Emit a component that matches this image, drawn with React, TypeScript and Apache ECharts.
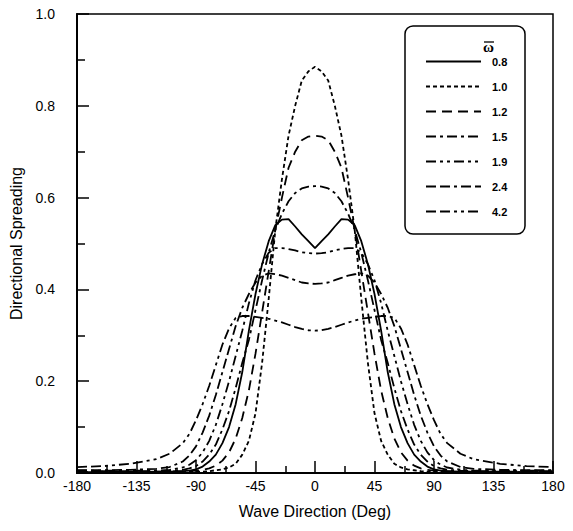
import React, { useEffect, useRef } from "react";
import * as echarts from "echarts";

// Wave direction (deg)
const DEG = [-180, -160, -140, -120, -110, -100, -95, -90, -85, -80, -75, -70, -65, -60, -55, -50, -45, -40, -35, -30, -25, -20, -15, -10, -5,
  0, 5, 10, 15, 20, 25, 30, 35, 40, 45, 50, 55, 60, 65, 70, 75, 80, 85, 90, 95, 100, 110, 120, 140, 160, 180];

const S08 = [0.002, 0.002, 0.002, 0.003, 0.003, 0.004, 0.005, 0.008, 0.014, 0.025, 0.04, 0.065, 0.1, 0.15, 0.22, 0.31, 0.39, 0.455, 0.505, 0.54, 0.552, 0.553, 0.537, 0.52, 0.505,
  0.49, 0.505, 0.52, 0.537, 0.553, 0.552, 0.54, 0.505, 0.455, 0.39, 0.31, 0.22, 0.15, 0.1, 0.065, 0.04, 0.025, 0.014, 0.008, 0.005, 0.004, 0.003, 0.003, 0.002, 0.002, 0.002];
const S10 = [0.002, 0.002, 0.002, 0.002, 0.002, 0.002, 0.003, 0.003, 0.003, 0.004, 0.006, 0.008, 0.012, 0.02, 0.04, 0.07, 0.13, 0.24, 0.38, 0.53, 0.64, 0.735, 0.8, 0.855, 0.875,
  0.885, 0.875, 0.855, 0.8, 0.735, 0.64, 0.53, 0.38, 0.24, 0.13, 0.07, 0.04, 0.02, 0.012, 0.008, 0.006, 0.004, 0.003, 0.003, 0.003, 0.002, 0.002, 0.002, 0.002, 0.002, 0.002];
const S12 = [0.003, 0.003, 0.003, 0.003, 0.003, 0.004, 0.004, 0.005, 0.007, 0.01, 0.016, 0.027, 0.045, 0.075, 0.12, 0.18, 0.26, 0.35, 0.44, 0.53, 0.6, 0.665, 0.7, 0.725, 0.733,
  0.735, 0.733, 0.725, 0.7, 0.665, 0.6, 0.53, 0.44, 0.35, 0.26, 0.18, 0.12, 0.075, 0.045, 0.027, 0.016, 0.01, 0.007, 0.005, 0.004, 0.004, 0.003, 0.003, 0.003, 0.003, 0.003];
const S15 = [0.004, 0.004, 0.004, 0.004, 0.005, 0.007, 0.01, 0.015, 0.025, 0.04, 0.062, 0.095, 0.135, 0.185, 0.24, 0.29, 0.355, 0.42, 0.48, 0.53, 0.565, 0.592, 0.61, 0.62, 0.624,
  0.625, 0.624, 0.62, 0.61, 0.592, 0.565, 0.53, 0.48, 0.42, 0.355, 0.29, 0.24, 0.185, 0.135, 0.095, 0.062, 0.04, 0.025, 0.015, 0.01, 0.007, 0.005, 0.004, 0.004, 0.004, 0.004];
const S19 = [0.005, 0.005, 0.005, 0.005, 0.007, 0.012, 0.018, 0.028, 0.045, 0.07, 0.105, 0.15, 0.2, 0.255, 0.31, 0.37, 0.42, 0.455, 0.48, 0.49, 0.49, 0.488, 0.485, 0.481, 0.479,
  0.478, 0.479, 0.481, 0.485, 0.488, 0.49, 0.49, 0.48, 0.455, 0.42, 0.37, 0.31, 0.255, 0.2, 0.15, 0.105, 0.07, 0.045, 0.028, 0.018, 0.012, 0.007, 0.005, 0.005, 0.005, 0.005];
const S24 = [0.006, 0.006, 0.007, 0.009, 0.013, 0.025, 0.038, 0.058, 0.088, 0.125, 0.17, 0.22, 0.27, 0.32, 0.36, 0.39, 0.415, 0.43, 0.435, 0.433, 0.43, 0.425, 0.42, 0.415, 0.413,
  0.412, 0.413, 0.415, 0.42, 0.425, 0.43, 0.433, 0.435, 0.43, 0.415, 0.39, 0.36, 0.32, 0.27, 0.22, 0.17, 0.125, 0.088, 0.058, 0.038, 0.025, 0.013, 0.009, 0.007, 0.006, 0.006];
const S42 = [0.013, 0.015, 0.02, 0.03, 0.042, 0.065, 0.085, 0.115, 0.15, 0.19, 0.235, 0.28, 0.315, 0.338, 0.342, 0.342, 0.34, 0.338, 0.336, 0.332, 0.328, 0.323, 0.318, 0.314, 0.311,
  0.31, 0.311, 0.314, 0.318, 0.323, 0.328, 0.332, 0.336, 0.338, 0.34, 0.342, 0.342, 0.338, 0.315, 0.28, 0.235, 0.19, 0.15, 0.115, 0.085, 0.065, 0.042, 0.03, 0.02, 0.015, 0.013];

const LABELS = ["0.8", "1.0", "1.2", "1.5", "1.9", "2.4", "4.2"];
const VALUES = [S08, S10, S12, S15, S19, S24, S42];
const DASHES: any[] = [
  "solid",
  [4, 3],
  [10, 6],
  [10, 4, 3, 4],
  [10, 4, 3, 4, 3, 4],
  [10, 4, 10, 4, 3, 4],
  [10, 4, 10, 4, 3, 4, 3, 4],
];

const X_TICKS = [-180, 180, 45];
const Y_TICKS = [0, 1, 0.2];

export default function App() {
  const ref = useRef<HTMLDivElement>(null);
  useEffect(() => {
    const chart = echarts.init(ref.current!, null, { renderer: "svg" });
    const font = "Liberation Sans, Arial, sans-serif";
    const series = LABELS.map((name, i) => ({
      name,
      type: "line",
      data: DEG.map((d, j) => [d, VALUES[i][j]]),
      symbol: "none",
      lineStyle: { color: "#000", width: 1.8, type: DASHES[i] },
      itemStyle: { color: "#000" },
    }));
    chart.setOption({
      animation: false,
      backgroundColor: "#fff",
      grid: {
        left: 77,
        right: 20,
        top: 14,
        bottom: 58,
        show: true,
        borderColor: "#000",
        borderWidth: 1.5,
      },
      xAxis: {
        type: "value",
        min: X_TICKS[0],
        max: X_TICKS[1],
        interval: X_TICKS[2],
        name: "Wave Direction (Deg)",
        nameLocation: "middle",
        nameGap: 30,
        nameTextStyle: { fontFamily: font, fontSize: 16, color: "#000" },
        axisLine: { onZero: false, lineStyle: { color: "#000", width: 2 } },
        axisTick: { inside: true, length: 12, lineStyle: { color: "#000", width: 1.5 } },
        minorTick: { show: true, splitNumber: 2, length: 7, lineStyle: { color: "#000", width: 1.5 } },
        splitLine: { show: false },
        axisLabel: { fontFamily: font, fontSize: 14, color: "#000", margin: 6 },
      },
      yAxis: {
        type: "value",
        min: Y_TICKS[0],
        max: Y_TICKS[1],
        interval: Y_TICKS[2],
        name: "Directional Spreading",
        nameLocation: "middle",
        nameGap: 52,
        nameTextStyle: { fontFamily: font, fontSize: 16, color: "#000" },
        axisLine: { show: true, onZero: false, lineStyle: { color: "#000", width: 2 } },
        axisTick: { inside: true, length: 12, lineStyle: { color: "#000", width: 1.5 } },
        minorTick: { show: true, splitNumber: 2, length: 8, lineStyle: { color: "#000", width: 1.5 } },
        splitLine: { show: false },
        axisLabel: {
          fontFamily: font,
          fontSize: 14,
          color: "#000",
          margin: 22,
          formatter: (v: number) => v.toFixed(1),
        },
      },
      legend: {
        orient: "vertical",
        left: 420,
        top: 51,
        itemWidth: 55,
        itemHeight: 12,
        itemGap: 14,
        data: LABELS,
        itemStyle: { opacity: 0 },
        textStyle: {
          fontFamily: "Liberation Sans Narrow, Liberation Sans, Arial, sans-serif",
          fontWeight: "bold",
          fontSize: 11,
          color: "#000",
          padding: [0, 0, 0, 6],
        },
      },
      graphic: [
        {
          type: "rect",
          shape: { x: 405, y: 26, width: 120, height: 208, r: 8 },
          style: { fill: "none", stroke: "#000", lineWidth: 1.5 },
          silent: true,
        },
        {
          type: "text",
          x: 483,
          y: 39,
          style: { text: "ω", font: "bold 15px Liberation Serif, serif", fill: "#000" },
          silent: true,
        },
        {
          type: "line",
          shape: { x1: 484, y1: 42, x2: 494, y2: 42 },
          style: { stroke: "#000", lineWidth: 1.3 },
          silent: true,
        },
      ],
      series,
    });
    return () => chart.dispose();
  }, []);
  return <div ref={ref} style={{ width: 573, height: 531, margin: -8 }} />;
}
